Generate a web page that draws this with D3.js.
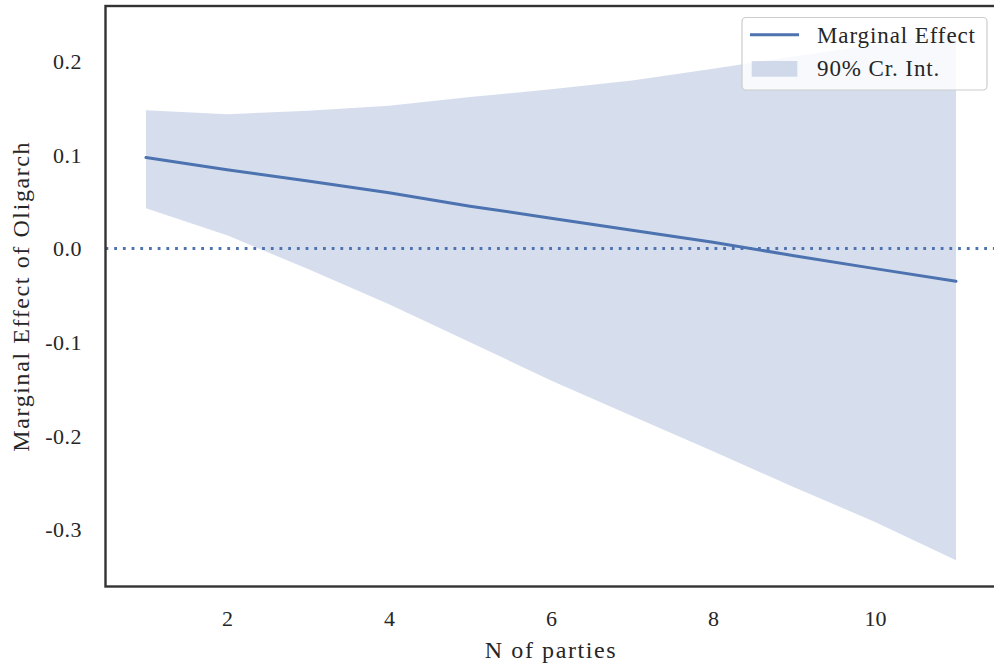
<!DOCTYPE html>
<html>
<head>
<meta charset="utf-8">
<script src="https://cdn.jsdelivr.net/npm/d3@7"></script>
<style>
    body { margin: 0; background: #fff; }
    svg text { font-family: "Liberation Serif", "Times New Roman", serif; fill: #262626; }
</style>
</head>
<body>
<svg id="canvas"></svg>
<script>
const parties = [1, 2, 3, 4, 5, 6, 7, 8, 9, 10, 11];
const effect = [0.0972, 0.0842, 0.072, 0.0596, 0.0452, 0.0324, 0.0196, 0.0067, -0.0077, -0.0215, -0.035];
const upper = [0.1477, 0.1435, 0.147, 0.1525, 0.1617, 0.170, 0.1795, 0.192, 0.205, 0.218, 0.231];
const lower = [0.043, 0.0142, -0.022, -0.0596, -0.100, -0.141, -0.179, -0.2165, -0.255, -0.292, -0.333];
const xTicks = [2, 4, 6, 8, 10];
const yTicks = [-0.3, -0.2, -0.1, 0.0, 0.1, 0.2];

const width = 994;
const height = 666;
const plotLeft = 105.5, plotRight = 996.5, plotTop = 6, plotBottom = 586.5;
const blue = "#4c72b0";

const canvas = d3.select("#canvas")
    .attr("width", width)
    .attr("height", height);

const xScale = d3.scaleLinear()
    .domain([0.5, 11.5])
    .range([plotLeft, plotRight]);
const yScale = d3.scaleLinear()
    .domain([-0.361, 0.259])
    .range([plotBottom, plotTop]);

canvas.append("clipPath")
    .attr("id", "plot-clip")
    .append("rect")
    .attr("x", plotLeft)
    .attr("y", plotTop)
    .attr("width", plotRight - plotLeft)
    .attr("height", plotBottom - plotTop);

const plot = canvas.append("g").attr("clip-path", "url(#plot-clip)");

const area = d3.area()
    .x((d, i) => xScale(parties[i]))
    .y0((d, i) => yScale(lower[i]))
    .y1((d, i) => yScale(upper[i]));

plot.append("path")
    .datum(parties)
    .attr("d", area)
    .attr("fill", blue)
    .attr("fill-opacity", 0.23);

plot.append("line")
    .attr("x1", plotLeft)
    .attr("x2", plotRight)
    .attr("y1", yScale(0))
    .attr("y2", yScale(0))
    .attr("stroke", blue)
    .attr("stroke-width", 2.8)
    .attr("stroke-dasharray", "2.8,5.9");

const line = d3.line()
    .x((d, i) => xScale(parties[i]))
    .y((d, i) => yScale(effect[i]));

plot.append("path")
    .datum(parties)
    .attr("d", line)
    .attr("fill", "none")
    .attr("stroke", blue)
    .attr("stroke-width", 3)
    .attr("stroke-linecap", "round");

// frame
canvas.append("rect")
    .attr("x", plotLeft)
    .attr("y", plotTop)
    .attr("width", plotRight - plotLeft)
    .attr("height", plotBottom - plotTop)
    .attr("fill", "none")
    .attr("stroke", "#333")
    .attr("stroke-width", 2.4);

const xAxis = d3.axisBottom(xScale)
    .tickValues(xTicks)
    .tickSize(0)
    .tickPadding(0)
    .tickFormat(d3.format("d"));
const yAxis = d3.axisLeft(yScale)
    .tickValues(yTicks)
    .tickSize(0)
    .tickPadding(0)
    .tickFormat(d => d.toFixed(1));

const gx = canvas.append("g")
    .attr("transform", `translate(0, ${plotBottom})`)
    .call(xAxis);
gx.select(".domain").remove();
gx.selectAll("text")
    .attr("dy", null)
    .attr("y", 39.5)
    .style("font-size", "22px")
    .style("font-family", "Liberation Serif, serif")
    .attr("fill", "#262626");

const gy = canvas.append("g")
    .attr("transform", `translate(82, 0)`)
    .call(yAxis);
gy.select(".domain").remove();
gy.selectAll("text")
    .attr("x", 0)
    .attr("dy", "0.33em")
    .style("font-size", "22px")
    .style("font-family", "Liberation Serif, serif")
    .style("letter-spacing", "0.5px")
    .attr("fill", "#262626");

canvas.append("text")
    .attr("x", (plotLeft + plotRight) / 2)
    .attr("y", 658)
    .attr("text-anchor", "middle")
    .style("font-size", "24px")
    .style("letter-spacing", "1.6px")
    .text("N of parties");

canvas.append("text")
    .attr("transform", `translate(29, ${(plotTop + plotBottom) / 2}) rotate(-90)`)
    .attr("text-anchor", "middle")
    .style("font-size", "24px")
    .style("letter-spacing", "1.6px")
    .text("Marginal Effect of Oligarch");

// legend
const legend = canvas.append("g");
legend.append("rect")
    .attr("x", 742)
    .attr("y", 17.5)
    .attr("width", 245)
    .attr("height", 72.5)
    .attr("rx", 4)
    .attr("fill", "#fff")
    .attr("fill-opacity", 0.8)
    .attr("stroke", "#cccccc")
    .attr("stroke-width", 1.2);
legend.append("line")
    .attr("x1", 750)
    .attr("x2", 799)
    .attr("y1", 34.7)
    .attr("y2", 34.7)
    .attr("stroke", blue)
    .attr("stroke-width", 3);
legend.append("rect")
    .attr("x", 751.7)
    .attr("y", 61)
    .attr("width", 45.6)
    .attr("height", 15.7)
    .attr("fill", blue)
    .attr("fill-opacity", 0.23);
legend.append("text")
    .attr("x", 817)
    .attr("y", 43)
    .style("font-size", "23px")
    .style("letter-spacing", "0.9px")
    .text("Marginal Effect");
legend.append("text")
    .attr("x", 817)
    .attr("y", 76)
    .style("font-size", "23px")
    .style("letter-spacing", "0.9px")
    .text("90% Cr. Int.");
</script>
</body>
</html>
